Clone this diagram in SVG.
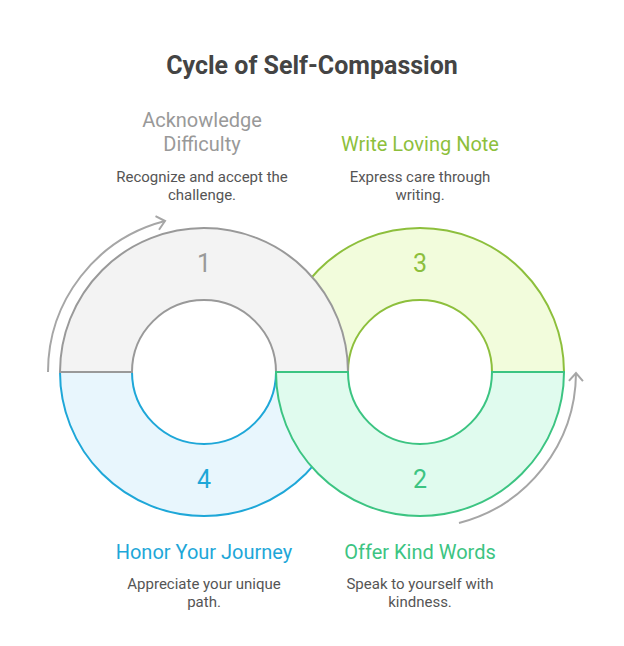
<svg xmlns="http://www.w3.org/2000/svg" width="624" height="646" viewBox="0 0 624 646">
<style>
text{font-family:Roboto,"Liberation Sans",sans-serif;text-anchor:middle}
.title{font-size:25px;font-weight:bold;fill:#444}
.head{font-size:20px}
.desc{font-size:15px;fill:#555}
.num{font-size:25px}
.seg{stroke-width:2}
.arr{fill:none;stroke:#a6a6a6;stroke-width:2}
</style>
<defs>
<marker id="ah" markerUnits="userSpaceOnUse" markerWidth="20" markerHeight="20" refX="10" refY="10" orient="auto" viewBox="0 0 20 20">
<path d="M2 3 L10 10 L2 17" fill="none" stroke="#a6a6a6" stroke-width="2"/>
</marker>
</defs>
<rect width="624" height="646" fill="#fff"/>
<text class="title" x="312" y="74">Cycle of Self-Compassion</text>
<g id="node3">
<path class="seg" d="M276 372 A144 144 0 0 1 564 372 L492 372 A72 72 0 0 0 348 372 Z" fill="#f2fcdc" stroke="#8dbf3c"/>
<text class="num" x="420" y="272" fill="#8dbf3c">3</text>
<text class="head" x="420" y="151" fill="#8dbf3c">Write Loving Note</text>
<text class="desc" x="420" y="182">Express care through</text>
<text class="desc" x="420" y="200">writing.</text>
</g>
<g id="node4">
<path class="seg" d="M60 372 A144 144 0 0 0 348 372 L276 372 A72 72 0 0 1 132 372 Z" fill="#e8f6fd" stroke="#1ea7d8"/>
<text class="num" x="204" y="488" fill="#1ea7d8">4</text>
<text class="head" x="204" y="559" fill="#1ea7d8">Honor Your Journey</text>
<text class="desc" x="204" y="589">Appreciate your unique</text>
<text class="desc" x="204" y="607">path.</text>
</g>
<g id="node1">
<path class="seg" d="M60 372 A144 144 0 0 1 348 372 L276 372 A72 72 0 0 0 132 372 Z" fill="#f3f3f3" stroke="#999"/>
<text class="num" x="204" y="272" fill="#999">1</text>
<text class="head" x="202" y="127" fill="#999">Acknowledge</text>
<text class="head" x="202" y="151" fill="#999">Difficulty</text>
<text class="desc" x="202" y="182">Recognize and accept the</text>
<text class="desc" x="202" y="200">challenge.</text>
</g>
<g id="node2">
<path class="seg" d="M276 372 A144 144 0 0 0 564 372 L492 372 A72 72 0 0 1 348 372 Z" fill="#e0fbee" stroke="#3cc482"/>
<text class="num" x="420" y="488" fill="#3cc482">2</text>
<text class="head" x="420" y="559" fill="#3cc482">Offer Kind Words</text>
<text class="desc" x="420" y="589">Speak to yourself with</text>
<text class="desc" x="420" y="607">kindness.</text>
</g>
<g id="connectors">
<path class="arr" d="M48 372 A156 156 0 0 1 165 221" marker-end="url(#ah)"/>
<path class="arr" d="M459 523 A156 156 0 0 0 576 373" marker-end="url(#ah)"/>
</g>
</svg>
